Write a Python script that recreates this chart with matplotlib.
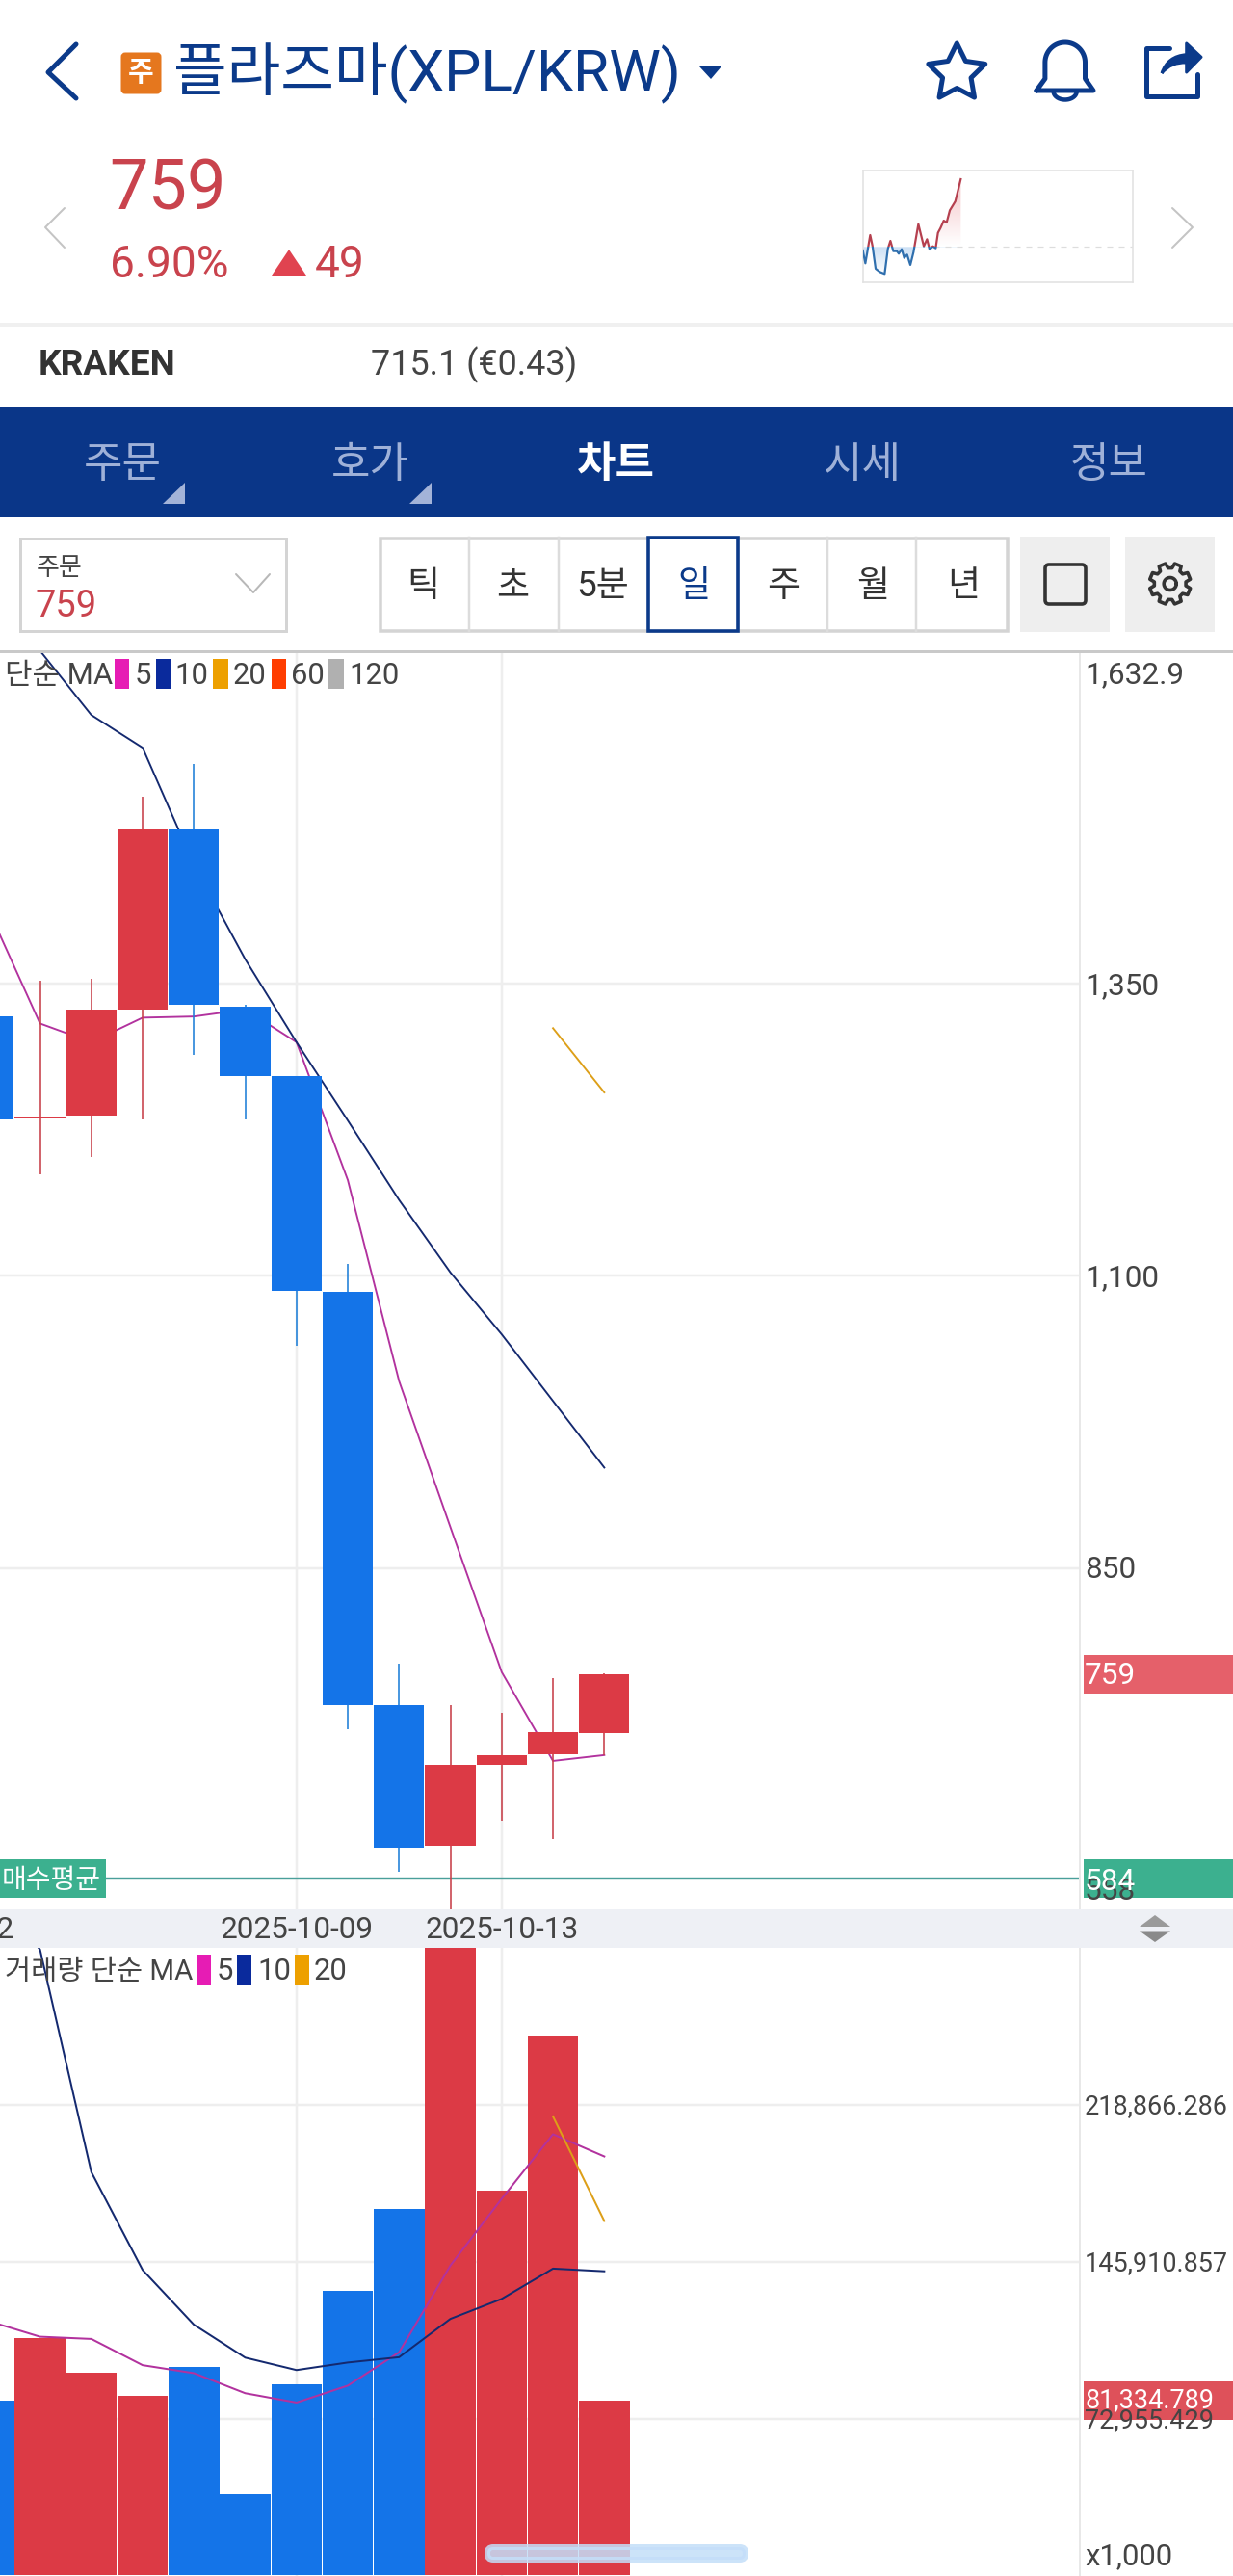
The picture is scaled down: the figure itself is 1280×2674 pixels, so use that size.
"""Recreate the XPL/KRW daily candle screen as a static matplotlib figure."""

import matplotlib

matplotlib.use("Agg")
import matplotlib.pyplot as plt
import numpy as np
from matplotlib.patches import FancyBboxPatch, PathPatch, Polygon, Rectangle
from matplotlib.path import Path

plt.rcParams["font.family"] = ["Roboto", "Noto Sans CJK KR", "DejaVu Sans"]

W, H = 1280, 2674

# days relative to 2025-10-09
days = [-6, -5, -4, -3, -2, -1, 0, 1, 2, 3, 4, 5, 6]
opens = [1322, 1235, 1237, 1328, 1482, 1330, 1271, 1086, 733, 612, 682, 691, 709]
closes = [1234, 1236, 1328, 1482, 1332, 1271, 1087, 733, 611, 682, 690, 710, 759]
highs = [1322, 1353, 1354, 1510, 1538, 1332, 1271, 1110, 768, 733, 726, 756, 760]
lows = [1234, 1187, 1202, 1234, 1289, 1234, 1040, 712, 590, 558, 634, 618, 690]

ma5 = [1413, 1316, 1300, 1321, 1322, 1328, 1300, 1182, 1010, 885, 761, 685, 690]
ma10 = [1690, 1635, 1580, 1552, 1452, 1371, 1300, 1233, 1165, 1103, 1050, 993, 936]
ma20_days = [5, 6]
ma20 = [1312, 1257]

volume = [81418, 110605, 94459, 83695, 96943, 37741, 88870, 132547, 170221, 300000,
          178915, 251158, 81335]
vol_ma5 = [118264, 111019, 109984, 97771, 94045, 84730, 80383, 88249, 103774, 144139,
           175189, 205204, 194854]
vol_ma10 = [320000, 291109, 187609, 142069, 116608, 101290, 95494, 99013, 101497, 119299,
            128614, 142690, 141448]
vol_ma20_days = [5, 6]
vol_ma20 = [213484, 164839]

price_ticks = [1350, 1100, 850]
price_labels = ["1,350", "1,100", "850"]
volume_ticks = [72955.429, 145910.857, 218866.286]
volume_labels = ["72,955.429", "145,910.857", "218,866.286"]
date_ticks = [0, 4]
date_labels = {-7: "2025-10-02", 0: "2025-10-09", 4: "2025-10-13"}

spark_x = [32, 40, 55, 62, 72, 85, 100, 110, 118, 127, 138, 144, 153, 161, 170, 180, 190, 205,
           222, 232, 240, 250, 259, 266, 274, 284, 293, 303, 320, 337]
spark_y = [-11, -51, 37, 4, -68, -78, -84, -6, 19, -13, -13, -21, -7, -34, -24, -56, -16, 71,
           2, 24, -8, 2, -4, 44, 59, 82, 76, 114, 142, 211]

tabs = ["주문", "호가", "차트", "시세", "정보"]
periods = ["틱", "초", "5분", "일", "주", "월", "년"]

NAVY = "#0b3a8a"
UP = "#dc3a45"
DOWN = "#1474e8"
UP_WICK = "#c8404a"
DOWN_WICK = "#1f7fd8"
UP_TEXT = "#c9434d"
GRID = "#eeeeee"
LABEL = "#444444"
MA_PINK = "#b2329e"
MA_NAVY = "#14296f"
MA_ORANGE = "#dd9f18"


def px(n):
    return n * 0.72


def label(ax, x, y, text, size, color=LABEL, ha="left", **kwargs):
    # size is the em in pixels; va=center sits a touch high against the reference
    return ax.text(x, y + 2, text, fontsize=size * 0.72, color=color, ha=ha, va="center", **kwargs)


def panel(fig, x0, x1, y0, y1):
    return fig.add_axes([x0 / W, 1 - y1 / H, (x1 - x0) / W, (y1 - y0) / H])


def style_panel(ax, yticks):
    ax.set_xlim(-5.78, 15.27)
    ax.set_xticks(date_ticks)
    ax.set_yticks(yticks)
    ax.set_xticklabels([])
    ax.set_yticklabels([])
    ax.tick_params(length=0)
    ax.grid(color=GRID, linewidth=px(2.5), zorder=0)
    ax.set_axisbelow(True)
    for side in ("top", "left", "bottom"):
        ax.spines[side].set_visible(False)
    ax.spines["right"].set_color("#e8e8e8")
    ax.spines["right"].set_linewidth(px(2))


def draw_candles(ax):
    for day, o, c, hi, lo in zip(days, opens, closes, highs, lows):
        rising = c >= o
        ax.vlines(day, lo, hi, color=UP_WICK if rising else DOWN_WICK, linewidth=px(1.6), zorder=3)
        ax.bar(day, abs(c - o), bottom=min(o, c), width=0.98, color=UP if rising else DOWN, zorder=3)
    ax.plot(days, ma5, color=MA_PINK, linewidth=px(1.9), zorder=2)
    ax.plot(days, ma10, color=MA_NAVY, linewidth=px(1.9), zorder=2)
    ax.plot(ma20_days, ma20, color=MA_ORANGE, linewidth=px(1.9), zorder=2)
    ax.axhline(584, color="#4a9f9a", linewidth=px(2.4), zorder=2.5)


def draw_volume(ax):
    colors = [UP if c >= o else DOWN for o, c in zip(opens, closes)]
    ax.bar(days, volume, width=0.985, color=colors, zorder=2)
    ax.plot(days, vol_ma5, color=MA_PINK, linewidth=px(2), zorder=3)
    ax.plot(days, vol_ma10, color=MA_NAVY, linewidth=px(2), zorder=3)
    ax.plot(vol_ma20_days, vol_ma20, color=MA_ORANGE, linewidth=px(2), zorder=3)


def draw_spark(ax):
    ax.set_xticks([])
    ax.set_yticks([])
    for spine in ax.spines.values():
        spine.set_color("#e2e2e2")
        spine.set_linewidth(px(1.6))
    x = np.array(spark_x)
    y = np.array(spark_y)
    area = np.column_stack([np.r_[x[0], x, x[-1]], np.r_[0, y, 0]])

    red = np.zeros((64, 2, 4))
    red[..., :3] = (0.86, 0.23, 0.27)
    red[..., 3] = np.linspace(0.3, 0.0, 64)[:, None]
    blue = np.zeros((64, 2, 4))
    blue[..., :3] = (0.08, 0.45, 0.82)
    blue[..., 3] = np.linspace(0.22, 0.0, 64)[:, None]
    for image, extent in ((red, (32, 340, 0, 211)), (blue, (32, 340, -90, 0))):
        shade = ax.imshow(image, extent=extent, aspect="auto", zorder=1, origin="upper")
        shade.set_clip_path(Polygon(area, transform=ax.transData))

    above = ax.plot(x, y, color="#b5404f", linewidth=px(2.2), zorder=3)[0]
    above.set_clip_path(Rectangle((32, 0), 840, 239, transform=ax.transData))
    below = ax.plot(x, y, color="#2f6fae", linewidth=px(2.2), zorder=3)[0]
    below.set_clip_path(Rectangle((32, -111), 840, 111, transform=ax.transData))
    ax.axhline(0, xmin=0.26, color="#dddddd", linewidth=px(1.2), linestyle=(0, (5, 5)), zorder=2)
    ax.set_xlim(32, 872)
    ax.set_ylim(-111, 239)


def poly(ax, points, color, **kwargs):
    ax.add_patch(Polygon(points, closed=True, facecolor=color, edgecolor="none", **kwargs))


def stroke(ax, points, color, width, **kwargs):
    xs, ys = zip(*points)
    ax.plot(xs, ys, color=color, linewidth=px(width), solid_capstyle="round",
            solid_joinstyle="round", **kwargs)


def draw_header_icons(ax):
    # star
    angles = np.deg2rad(np.arange(-90, 270, 36))
    radii = np.where(np.arange(10) % 2 == 0, 31, 15.5)
    star = np.column_stack([993.3 + radii * np.cos(angles), 76 + radii * np.sin(angles)])
    ax.add_patch(Polygon(star, closed=True, facecolor="none", edgecolor=NAVY,
                         linewidth=px(5), joinstyle="round"))
    # bell
    t = np.linspace(np.pi, 2 * np.pi, 40)
    dome = np.column_stack([1105.7 + 20.8 * np.cos(t), 64.8 + 20.8 * np.sin(t)])
    bell = [(1076, 94), (1084.9, 81.7)] + [tuple(p) for p in dome] + [(1126.5, 81.7), (1135, 94), (1076, 94)]
    stroke(ax, bell, NAVY, 5)
    t = np.linspace(0, np.pi, 20)
    stroke(ax, list(zip(1105.7 + 12 * np.cos(t), 95 + 8.5 * np.sin(t))), NAVY, 4.5)
    # share
    stroke(ax, [(1214, 50), (1190, 50), (1190, 100), (1242.7, 100), (1242.7, 77.3)], NAVY, 5)
    arrow = Path(
        [(1206, 76), (1212, 58), (1231.7, 56.7), (1231.7, 45), (1247, 59.3), (1231.7, 75),
         (1231.7, 65), (1216, 64), (1206, 76)],
        [Path.MOVETO, Path.CURVE3, Path.CURVE3, Path.LINETO, Path.LINETO, Path.LINETO,
         Path.LINETO, Path.CURVE3, Path.CURVE3],
    )
    ax.add_patch(PathPatch(arrow, facecolor=NAVY, edgecolor=NAVY, linewidth=px(3), joinstyle="round"))


def draw_gear(ax, cx, cy):
    angles = np.linspace(0, 2 * np.pi, 8, endpoint=False) + np.pi / 8
    points = []
    for a in angles:
        for offset, r in ((-0.27, 16.5), (-0.17, 21.5), (0.17, 21.5), (0.27, 16.5)):
            points.append((cx + r * np.cos(a + offset), cy + r * np.sin(a + offset)))
    ax.add_patch(Polygon(points, closed=True, facecolor="none", edgecolor="#333333",
                         linewidth=px(3.6), joinstyle="round"))
    t = np.linspace(0, 2 * np.pi, 40)
    stroke(ax, list(zip(cx + 6.5 * np.cos(t), cy + 6.5 * np.sin(t))), "#333333", 3.6)


def draw_legend(ax, items, y):
    for x0, x1, color, text_x, name in items:
        ax.add_patch(Rectangle((x0, y - 15.5), x1 - x0, 31, facecolor=color, edgecolor="none"))
        label(ax, text_x, y, name, 31)


def draw_chrome(ax):
    ax.set_xlim(0, W)
    ax.set_ylim(H, 0)
    ax.axis("off")

    # title row
    stroke(ax, [(79, 46), (50, 75), (79, 102)], NAVY, 5)
    ax.add_patch(FancyBboxPatch((127, 56), 39, 40, boxstyle="round,pad=0,rounding_size=3",
                                facecolor="#e5771e", edgecolor="#e5771e", linewidth=px(3)))
    label(ax, 146.5, 74, "주", 29, "white", ha="center", fontweight="bold")
    label(ax, 180, 74, "플라즈마(XPL/KRW)", 60.5, NAVY)
    poly(ax, [(726, 69), (749, 69), (738, 82)], NAVY)
    draw_header_icons(ax)

    # quote row
    label(ax, 113, 196, "759", 72, UP_TEXT)
    label(ax, 114, 273, "6.90%", 46, UP_TEXT)
    poly(ax, [(282, 286), (318, 286), (300, 259)], "#e04350")
    label(ax, 327, 273, "49", 46, UP_TEXT)
    stroke(ax, [(67, 216), (47, 236), (67, 257)], "#c4c4c4", 2)
    stroke(ax, [(1217, 216), (1238, 236), (1217, 257)], "#c4c4c4", 2)
    ax.add_patch(Rectangle((0, 335), W, 3.5, facecolor="#f0f0f0", edgecolor="none"))

    # exchange row
    label(ax, 40, 377, "KRAKEN", 37, "#333333", fontweight="bold")
    label(ax, 385, 377, "715.1 (€0.43)", 36)

    # tab band
    ax.add_patch(Rectangle((0, 422), W, 115, facecolor="#0a3688", edgecolor="none"))
    for name, x in zip(tabs, (127, 384, 639, 895, 1151)):
        active = name == "차트"
        label(ax, x, 481, name, 44, "white" if active else "#9fb1d8", ha="center",
              fontweight="bold" if active else "normal")
    poly(ax, [(169, 522.5), (192, 522.5), (192, 501)], "#a3b3d8")
    poly(ax, [(425, 522.5), (448, 522.5), (448, 501)], "#a3b3d8")

    # order box
    ax.add_patch(Rectangle((20.5, 558.5), 276, 96, facecolor="white", edgecolor="#d4d4d4", linewidth=px(3)))
    label(ax, 38, 588, "주문", 26)
    label(ax, 37, 628, "759", 38, UP_TEXT)
    stroke(ax, [(245, 596), (263, 615), (280, 596)], "#b8b8b8", 2)

    # period selector
    ax.add_patch(Rectangle((394.5, 558.5), 651, 96, facecolor="white", edgecolor="#d4d4d4", linewidth=px(3.5)))
    for x in (487, 580, 859, 951):
        ax.plot([x, x], [558, 655], color="#dcdcdc", linewidth=px(2.5))
    ax.add_patch(Rectangle((673, 558), 93, 97, facecolor="white", edgecolor=NAVY, linewidth=px(3.6)))
    for name, x in zip(periods, (439, 532, 626, 720, 813, 906, 1000)):
        label(ax, x, 607, name, 37, NAVY if name == "일" else "#333333", ha="center")
    ax.add_patch(Rectangle((1058.5, 556.5), 93.5, 99.5, facecolor="#eeeeee", edgecolor="none"))
    ax.add_patch(Rectangle((1168, 556.5), 93, 99.5, facecolor="#eeeeee", edgecolor="none"))
    ax.add_patch(FancyBboxPatch((1085, 586), 42, 41, boxstyle="round,pad=0,rounding_size=4",
                                facecolor="none", edgecolor="#333333", linewidth=px(3.6)))
    draw_gear(ax, 1214.7, 606)

    # price panel edge and legend
    ax.add_patch(Rectangle((0, 675), W, 3, facecolor="#c9c9c9", edgecolor="none"))
    label(ax, 5, 699, "단순 MA", 31)
    draw_legend(ax, [
        (119, 134, "#e61cb4", 140, "5"),
        (162, 177, "#0a2a9c", 181, "10"),
        (221, 237, "#eda000", 242, "20"),
        (282, 297, "#ff3d00", 302, "60"),
        (341, 357, "#b0b0b0", 362, "120"),
    ], 699)

    # right hand labels for the price panel
    label(ax, 1126, 699, "1,632.9", 31.5)
    for value, name in zip(price_ticks, price_labels):
        y = 1021.2 + (1350 - value) * 1.2131
        label(ax, 1126, y, name, 31.5)
    ax.add_patch(Rectangle((1125, 1718), 155, 40, facecolor="#e5606a", edgecolor="none"))
    label(ax, 1126, 1738, "759", 31.5, "white")
    label(ax, 1126, 1962, "558", 31.5)
    ax.add_patch(Rectangle((1125, 1930), 155, 40, facecolor="#3cb08f", edgecolor="none"))
    label(ax, 1126, 1951, "584", 31.5, "white")
    ax.add_patch(Rectangle((0, 1930), 110, 40, facecolor="#3cb08f", edgecolor="none"))
    label(ax, 2, 1951, "매수평균", 28, "white")

    # date strip
    ax.add_patch(Rectangle((0, 1982), W, 40, facecolor="#eef0f5", edgecolor="none"))
    for day, name in date_labels.items():
        label(ax, 307.8 + day * 53.25, 2001, name, 31.5, ha="center")
    poly(ax, [(1183, 2000), (1215, 2000), (1199, 1988)], "#9a9a9a")
    poly(ax, [(1183, 2004.5), (1215, 2004.5), (1199, 2016)], "#8a8a8a")

    # volume legend and labels
    label(ax, 5, 2044.6, "거래량 단순 MA", 29.5)
    draw_legend(ax, [
        (204, 219, "#e61cb4", 225, "5"),
        (246, 261, "#0a2a9c", 267, "10"),
        (306, 321, "#eda000", 326, "20"),
    ], 2044.6)
    for value, name in zip(volume_ticks, volume_labels):
        y = 2673.3 - value * 0.0022315
        label(ax, 1126, y, name, 27)
    ax.add_patch(Rectangle((1125, 2472), 155, 40, facecolor="#dd4b55", edgecolor="none", alpha=0.97))
    label(ax, 1126, 2490, "81,334.789", 27, "white")
    label(ax, 1126, 2652, "x1,000", 31)

    # scroll indicator
    ax.add_patch(FancyBboxPatch((506, 2644), 268, 13, boxstyle="round,pad=0,rounding_size=6",
                                facecolor="#c4def9", edgecolor="#c4def9", linewidth=px(6), alpha=0.85))


def main():
    fig = plt.figure(figsize=(W / 100, H / 100), dpi=100, facecolor="white")

    price_ax = panel(fig, 0, 1121, 678, 1982)
    price_ax.set_ylim(558, 1632.9)
    style_panel(price_ax, price_ticks)
    draw_candles(price_ax)

    volume_ax = panel(fig, 0, 1121, 2022, H)
    volume_ax.set_ylim(-300, 291880)
    style_panel(volume_ax, volume_ticks)
    draw_volume(volume_ax)

    spark_ax = panel(fig, 895.7, 1175.7, 176.7, 293.3)
    draw_spark(spark_ax)

    ui = fig.add_axes([0, 0, 1, 1], zorder=5)
    draw_chrome(ui)

    fig.savefig("out.png", dpi=100)
    plt.close(fig)


if __name__ == "__main__":
    main()
